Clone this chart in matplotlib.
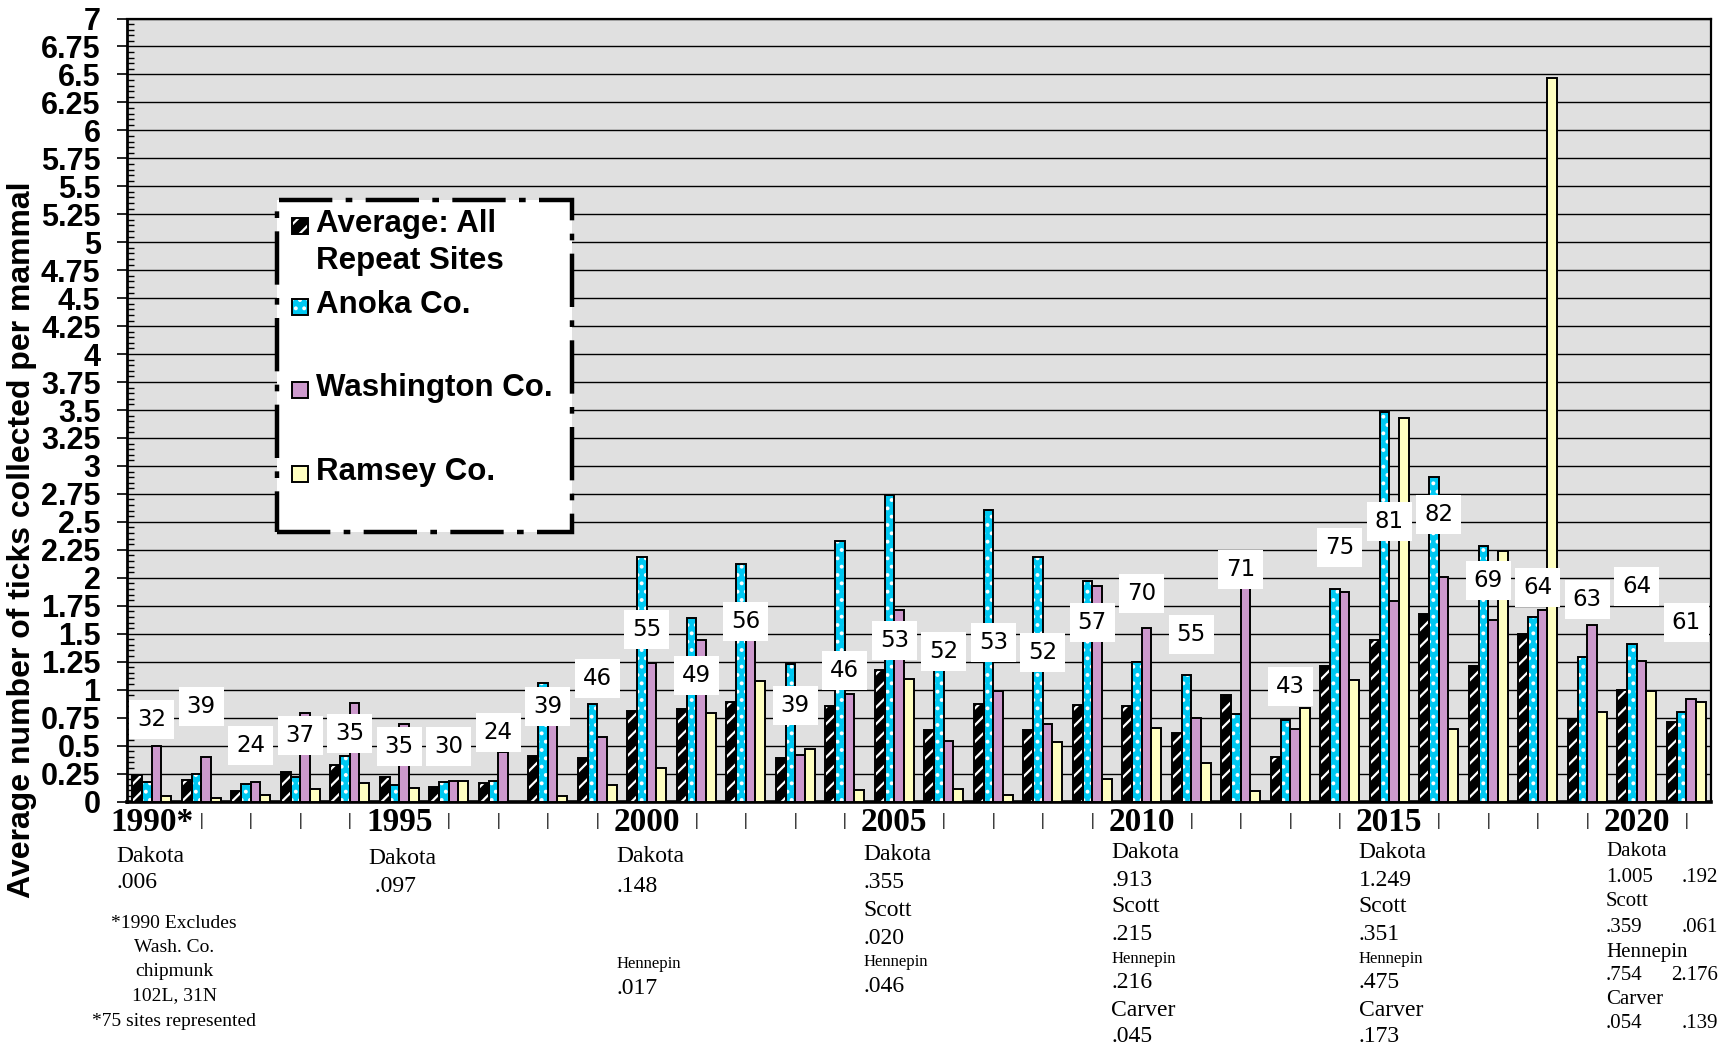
import numpy as np
import matplotlib.pyplot as plt
import matplotlib.transforms as mtransforms
from matplotlib.patches import Rectangle
from matplotlib.ticker import MultipleLocator, FuncFormatter

# --- data ---
years = list(range(1990, 2022))
avg_all = [0.24, 0.19, 0.09, 0.265, 0.33, 0.22, 0.13, 0.165, 0.41, 0.39,
           0.805, 0.83, 0.89, 0.39, 0.85, 1.18, 0.64, 0.875, 0.64, 0.86,
           0.85, 0.61, 0.95, 0.40, 1.21, 1.44, 1.68, 1.21, 1.50, 0.73,
           1.00, 0.71]
anoka = [0.17, 0.25, 0.155, 0.22, 0.41, 0.145, 0.175, 0.185, 1.06, 0.87,
         2.19, 1.64, 2.12, 1.23, 2.33, 2.74, 1.38, 2.61, 2.19, 1.97,
         1.25, 1.13, 0.78, 0.73, 1.90, 3.48, 2.90, 2.28, 1.65, 1.29,
         1.41, 0.80]
washington = [0.50, 0.40, 0.17, 0.79, 0.88, 0.69, 0.185, 0.44, 0.90, 0.575,
              1.24, 1.44, 1.44, 0.42, 0.96, 1.715, 0.54, 0.99, 0.695, 1.93,
              1.55, 0.745, 1.905, 0.65, 1.87, 1.79, 2.01, 1.62, 1.71, 1.58,
              1.26, 0.915]
ramsey = [0.05, 0.03, 0.06, 0.11, 0.165, 0.12, 0.185, 0.0, 0.05, 0.15,
          0.30, 0.79, 1.08, 0.47, 0.10, 1.095, 0.11, 0.055, 0.53, 0.20,
          0.66, 0.34, 0.09, 0.84, 1.09, 3.43, 0.645, 2.24, 6.47, 0.80,
          0.99, 0.89]
# number of sites per year (white boxes) and the height where each box sits
site_counts = [32, 39, 24, 37, 35, 35, 30, 24, 39, 46, 55, 49, 56, 39, 46, 53,
               52, 53, 52, 57, 70, 55, 71, 43, 75, 81, 82, 69, 64, 63, 64, 61]
count_label_y = [0.73, 0.85, 0.50, 0.59, 0.61, 0.49, 0.49, 0.62, 0.85, 1.10,
                 1.54, 1.13, 1.61, 0.86, 1.17, 1.44, 1.34, 1.42, 1.33, 1.60,
                 1.86, 1.49, 2.07, 1.03, 2.27, 2.50, 2.57, 1.98, 1.91, 1.81,
                 1.92, 1.60]

series_names = ["Average: All\nRepeat Sites", "Anoka Co.", "Washington Co.", "Ramsey Co."]

# county notes under the axis: (text, fontsize, y pixel from top)
notes_1990 = [("Dakota", 17, 856), (".006", 17, 882)]
footnote_1990 = [("*1990 Excludes", 923), ("Wash. Co.", 948), ("chipmunk", 972),
                 ("102L, 31N", 996), ("*75 sites represented", 1021)]
notes_1995 = [("Dakota", 17, 859), (" .097", 17, 887)]
notes_2000 = [("Dakota", 17, 857), (".148", 17, 886), ("Hennepin", 12, 964), (".017", 17, 989)]
notes_2005 = [("Dakota", 17, 855), (".355", 17, 882), ("Scott", 17, 910), (".020", 17, 938),
              ("Hennepin", 12, 962), (".046", 17, 986)]
notes_2010 = [("Dakota", 17, 852), (".913", 17, 880), ("Scott", 17, 907), (".215", 17, 934),
              ("Hennepin", 12, 959), (".216", 17, 983), ("Carver", 17, 1011), (".045", 17, 1037)]
notes_2015 = [("Dakota", 17, 852), ("1.249", 17, 880), ("Scott", 17, 907), (".351", 17, 934),
              ("Hennepin", 12, 959), (".475", 17, 983), ("Carver", 17, 1011), (".173", 17, 1037)]
notes_2020 = [("Dakota", 15, 852), ("1.005", 15, 878), ("Scott", 15, 902), (".359", 15, 928),
              ("Hennepin", 15, 952), (".754", 15, 976), ("Carver", 15, 1000), (".054", 15, 1024)]
notes_2020_right = [(".192", 15, 878), (".061", 15, 928), ("2.176", 15, 976), (".139", 15, 1024)]

# --- styles ---
face = ["black", "#00C8F2", "#CC99CC", "#FFFFC0"]
hatch = ["//", "..", None, None]
plt.rcParams['hatch.linewidth'] = 1.6

W, H = 1736, 1051
fig = plt.figure(figsize=(W / 100, H / 100), dpi=100)
ax = fig.add_axes([127 / W, 1 - 801.5 / H, (1711 - 127) / W, (801.5 - 18.5) / H])
ax.set_facecolor("#E0E0E0")

x = np.arange(len(years))
bw = 0.195
for k, vals in enumerate([avg_all, anoka, washington, ramsey]):
    pos = x + (k - 1.5) * bw
    if hatch[k]:
        ax.bar(pos, vals, bw, color=face[k], edgecolor="white", hatch=hatch[k],
               linewidth=0, zorder=3)
    else:
        ax.bar(pos, vals, bw, color=face[k], linewidth=0, zorder=3)
    ax.bar(pos, vals, bw, fill=False, edgecolor="black", linewidth=1.4, zorder=4)

for i, n in enumerate(site_counts):
    ax.text(i, count_label_y[i], str(n), ha="center", va="center", fontsize=16.5,
            family="DejaVu Sans", zorder=6,
            bbox=dict(boxstyle="square,pad=0.35", facecolor="white", edgecolor="none"))

ax.set_xlim(-0.5, len(years) - 0.5)
ax.set_ylim(0, 7)
ax.yaxis.set_major_locator(MultipleLocator(0.25))
ax.yaxis.set_minor_locator(MultipleLocator(0.05))
ax.yaxis.set_major_formatter(FuncFormatter(lambda v, p: f"{v:g}"))
ax.grid(axis="y", which="major", color="black", linewidth=1.0, zorder=1)
ax.set_axisbelow(True)
ax.tick_params(axis="y", which="major", length=7, width=1.2, pad=12, direction="out")
ax.tick_params(axis="y", which="minor", length=5, width=1.0, direction="in")
for lab in ax.get_yticklabels():
    lab.set_fontsize(22)
    lab.set_fontweight("bold")
    lab.set_family("Liberation Sans")

# year labels, with a small bar under every other group
ax.set_xticks(x)
xlabs = []
for y in years:
    if y == 1990:
        xlabs.append("1990*")
    elif y % 5 == 0:
        xlabs.append(str(y))
    else:
        xlabs.append("|")
ax.set_xticklabels(xlabs)
ax.tick_params(axis="x", length=0, pad=4)
for y, lab in zip(years, ax.get_xticklabels()):
    lab.set_family("Liberation Serif")
    if y % 5 == 0:
        lab.set_fontsize(24)
        lab.set_fontweight("bold")
    else:
        lab.set_fontsize(12)
        lab.set_fontweight("bold")
        lab.set_y(-0.008)

for side in ["top", "right"]:
    ax.spines[side].set_linewidth(1.6)
ax.spines["left"].set_linewidth(2.0)
ax.spines["bottom"].set_linewidth(2.6)

fig.text(22 / W, 1 - 540 / H, "Average number of ticks collected per mammal",
         rotation=90, ha="center", va="center", fontsize=23, fontweight="bold",
         family="Liberation Sans")

# notes under the chart
tr = mtransforms.blended_transform_factory(ax.transData, fig.transFigure)


def put_notes(idx, lines, dx=-0.62, ha="left"):
    for txt, size, ypx in lines:
        fig.text(idx + dx, 1 - ypx / H, txt, transform=tr, ha=ha, va="center",
                 fontsize=size, family="Liberation Serif")


put_notes(0, notes_1990, dx=-0.72)
put_notes(5, notes_1995)
put_notes(10, notes_2000)
put_notes(15, notes_2005)
put_notes(20, notes_2010)
put_notes(25, notes_2015)
put_notes(30, notes_2020)
put_notes(31, notes_2020_right, dx=0.65, ha="right")
for txt, ypx in footnote_1990:
    fig.text(0.45, 1 - ypx / H, txt, transform=tr, ha="center", va="center",
             fontsize=14, family="Liberation Serif")

# legend box drawn by hand (dash-dot frame)
fig.add_artist(Rectangle((277 / W, 1 - 532 / H), (572 - 277) / W, (532 - 200) / H,
                         transform=fig.transFigure, facecolor="white", edgecolor="black",
                         linewidth=3.2, linestyle=(0, (12, 3, 1.5, 3)), zorder=10))
leg_y = [226, 307, 390, 474]
sq = 16
for k, name in enumerate(series_names):
    yc = leg_y[k]
    r = Rectangle(((300 - sq / 2) / W, 1 - (yc + sq / 2) / H), sq / W, sq / H,
                  transform=fig.transFigure, facecolor=face[k],
                  edgecolor="white" if hatch[k] else face[k],
                  hatch=hatch[k], linewidth=0, zorder=11)
    fig.add_artist(r)
    fig.add_artist(Rectangle(((300 - sq / 2) / W, 1 - (yc + sq / 2) / H), sq / W, sq / H,
                             transform=fig.transFigure, fill=False, edgecolor="black",
                             linewidth=1.4, zorder=12))
    fig.text(316 / W, 1 - (yc - 17) / H, name, ha="left", va="top", fontsize=22.5,
             fontweight="bold", family="Liberation Sans", linespacing=1.3, zorder=12)

fig.savefig("out.png", dpi=100)
